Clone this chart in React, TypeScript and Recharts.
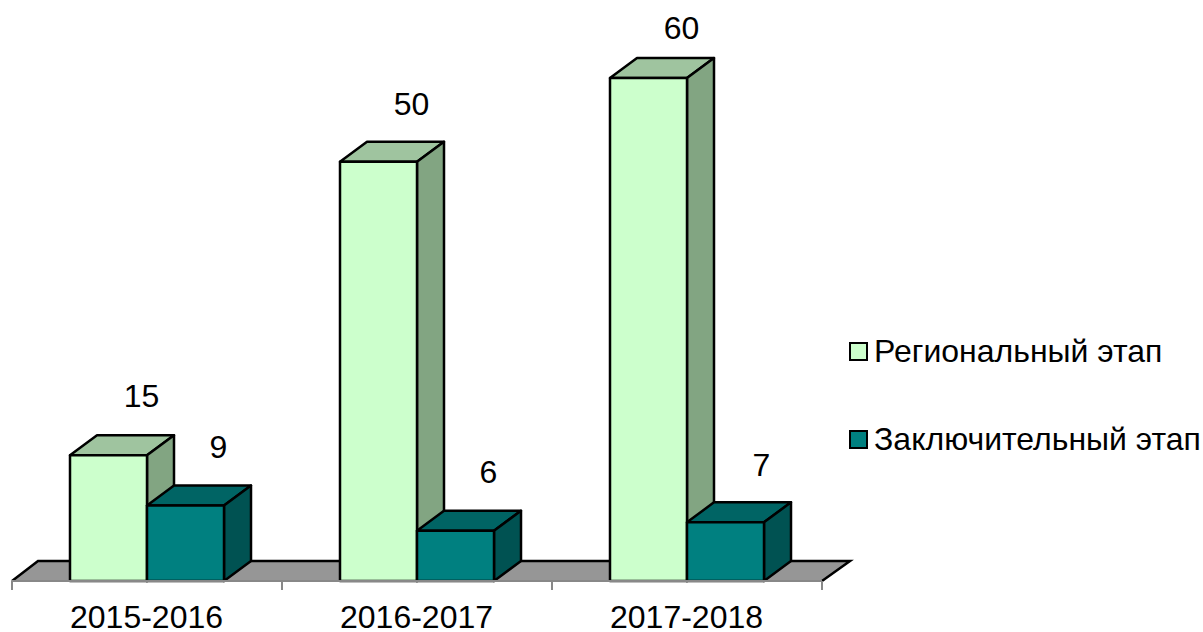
import { Bar, BarChart, LabelList, Legend, XAxis, YAxis, usePlotArea } from "recharts";

const categories = ["2015-2016", "2016-2017", "2017-2018"];
const regional = [15, 50, 60];
const final = [9, 6, 7];

const chartData = categories.map((period, i) => ({ period, regional: regional[i], final: final[i] }));

const FONT = "'Liberation Sans', Arial, sans-serif";
const DEPTH_X = 27;
const DEPTH_Y = 20;
const LINE = 2.5;
const AXIS_GREY = "#888";

// label nudges, the source chart does not place them evenly
const regionalNudge = [
  { dx: 33, lift: 59 },
  { dx: 33, lift: 58 },
  { dx: 33, lift: 50 }
];
const finalNudge = [
  { dx: 33, lift: 59 },
  { dx: 33, lift: 59 },
  { dx: 36, lift: 57 }
];

const legendItems = [
  { name: "Региональный этап", color: "#CCFFCC", y: 12 },
  { name: "Заключительный этап", color: "#008080", y: 100 }
];

function Box({ x, y, width, height, front, top, side }: any) {
  const r = x + width;
  const b = y + height;
  return (
    <g stroke="#000" strokeWidth={LINE} strokeLinejoin="round">
      <polygon
        points={`${x},${y} ${x + DEPTH_X},${y - DEPTH_Y} ${r + DEPTH_X},${y - DEPTH_Y} ${r},${y}`}
        fill={top}
      />
      <polygon
        points={`${r},${y} ${r + DEPTH_X},${y - DEPTH_Y} ${r + DEPTH_X},${b - DEPTH_Y} ${r},${b}`}
        fill={side}
      />
      <rect x={x} y={y} width={width} height={height} fill={front} />
      <line x1={x} x2={r} y1={b} y2={b} stroke={AXIS_GREY} strokeWidth={2} />
    </g>
  );
}

function Floor() {
  const plot = usePlotArea();
  if (!plot) return null;
  const l = plot.x;
  const r = plot.x + plot.width;
  const b = plot.y + plot.height;
  const tl = l + DEPTH_X - 1;
  const tr = r + DEPTH_X + 1;
  const t = b - DEPTH_Y;
  return (
    <g>
      <polygon points={`${l},${b} ${tl},${t} ${tr},${t} ${r},${b}`} fill="#969696" />
      <polyline points={`${l},${b} ${tl},${t} ${tr},${t} ${r},${b}`} fill="none" stroke="#000" strokeWidth={LINE} />
    </g>
  );
}

function PeriodTick({ x, payload }: any) {
  const plot = usePlotArea();
  if (!plot) return null;
  const half = plot.width / categories.length / 2;
  const b = plot.y + plot.height;
  return (
    <g>
      <line x1={x - half} x2={x - half} y1={b} y2={b + 9} stroke={AXIS_GREY} strokeWidth={2} />
      <line x1={x + half} x2={x + half} y1={b} y2={b + 9} stroke={AXIS_GREY} strokeWidth={2} />
      <text x={x - 0.5} y={b + 47} textAnchor="middle" fontFamily={FONT} fontSize={32} fill="#000">
        {payload.value}
      </text>
    </g>
  );
}

function ValueLabel({ x, y, width, value, index, nudge }: any) {
  return (
    <text
      x={x + width / 2 + nudge[index].dx}
      y={y - nudge[index].lift}
      textAnchor="middle"
      dominantBaseline="central"
      fontFamily={FONT}
      fontSize={32}
      fill="#000"
    >
      {value}
    </text>
  );
}

function LegendBox() {
  return (
    <div style={{ position: "relative", width: 353, height: 140 }}>
      {legendItems.map((item) => (
        <div key={item.name}>
          <div
            style={{
              position: "absolute",
              left: -1,
              top: item.y,
              width: 15,
              height: 15,
              background: item.color,
              border: "2px solid #000"
            }}
          />
          <div
            style={{
              position: "absolute",
              left: 24,
              top: item.y - 9,
              fontFamily: FONT,
              fontSize: 32,
              lineHeight: "36px",
              whiteSpace: "nowrap",
              color: "#000"
            }}
          >
            {item.name}
          </div>
        </div>
      ))}
    </div>
  );
}

export default function App() {
  return (
    <div style={{ position: "absolute", left: 0, top: 0, width: 1203, height: 632, overflow: "hidden", background: "#fff" }}>
      <BarChart
        width={1203}
        height={632}
        data={chartData}
        margin={{ top: 78, right: 28, bottom: 0, left: 12 }}
        barSize={77}
        barGap={0}
      >
        <Floor />
        <XAxis
          dataKey="period"
          height={51}
          interval={0}
          tick={<PeriodTick />}
          tickLine={false}
          axisLine={{ stroke: AXIS_GREY, strokeWidth: 2 }}
          scale="band"
        />
        <YAxis hide domain={[0, 60]} />
        <Legend
          layout="vertical"
          align="right"
          verticalAlign="middle"
          width={353}
          content={<LegendBox />}
          wrapperStyle={{ right: 0, top: 330, width: 353, height: 140 }}
        />
        <Bar
          dataKey="regional"
          isAnimationActive={false}
          shape={(p: any) => <Box {...p} front="#CCFFCC" top="#9FC49F" side="#82A582" />}
        >
          <LabelList dataKey="regional" content={<ValueLabel nudge={regionalNudge} />} />
        </Bar>
        <Bar
          dataKey="final"
          isAnimationActive={false}
          shape={(p: any) => <Box {...p} front="#008080" top="#006464" side="#005252" />}
        >
          <LabelList dataKey="final" content={<ValueLabel nudge={finalNudge} />} />
        </Bar>
      </BarChart>
    </div>
  );
}
